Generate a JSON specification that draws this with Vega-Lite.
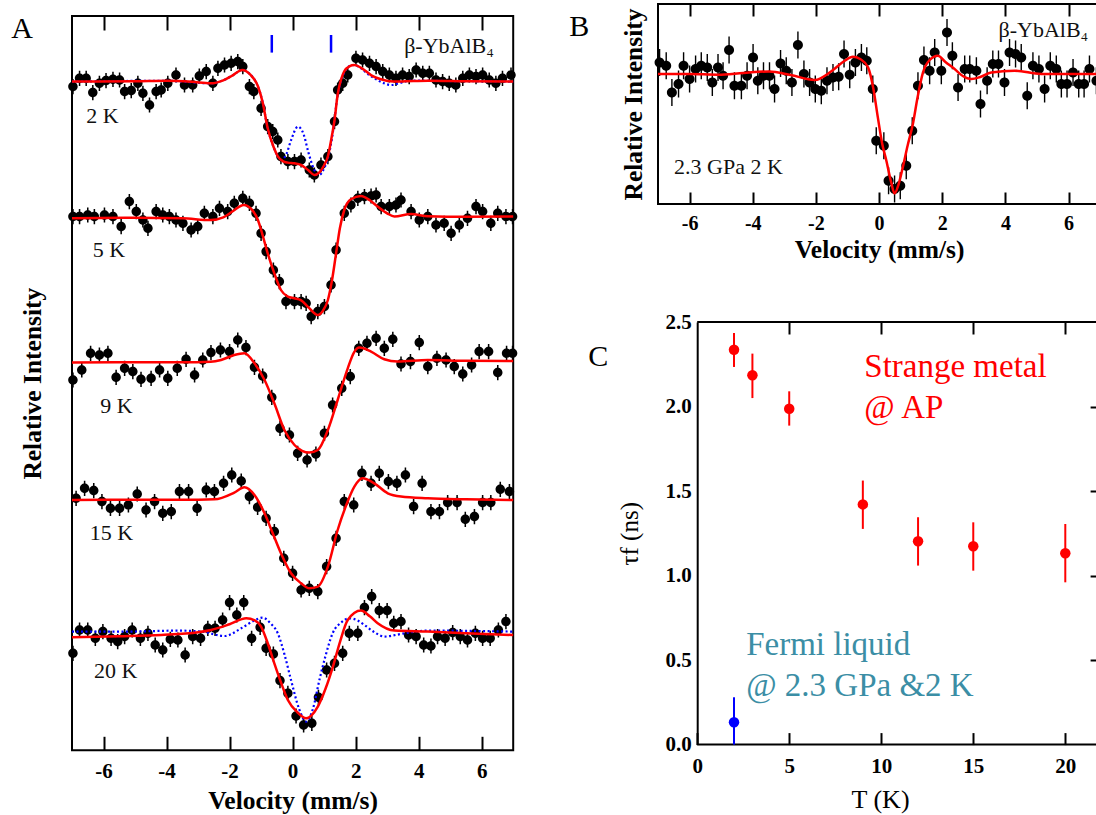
{
"$schema": "https://vega.github.io/schema/vega-lite/v6.json",
"padding": {"left": 10, "top": 2, "right": 0, "bottom": 0},
"autosize": {"type": "pad"},
"config": {
  "font": "Liberation Serif",
  "view": {"stroke": "black", "strokeWidth": 2},
  "axis": {"grid": false, "labelFlush": false, "labelOverlap": false, "labelColor": "black", "titleColor": "black", "tickColor": "black", "domainColor": "black", "tickWidth": 2, "domainWidth": 2, "labelFont": "Liberation Serif", "titleFont": "Liberation Serif"}
},
"datasets": {
  "ptsA": [
{"v":-6.97,"I":663.7},{"v":-6.76,"I":672},{"v":-6.55,"I":672},{"v":-6.34,"I":657.7},{"v":-6.13,"I":667},{"v":-5.92,"I":669.7},{"v":-5.70,"I":671},{"v":-5.49,"I":670.3},{"v":-5.33,"I":658.7},{"v":-5.12,"I":659.7},{"v":-4.91,"I":667},{"v":-4.75,"I":657},{"v":-4.54,"I":645.3},{"v":-4.33,"I":658.7},{"v":-4.17,"I":660.3},{"v":-3.96,"I":667},{"v":-3.70,"I":675.3},{"v":-3.43,"I":665.3},{"v":-3.17,"I":665.3},{"v":-2.96,"I":674.3},{"v":-2.74,"I":678.7},{"v":-2.53,"I":667},{"v":-2.37,"I":682},{"v":-2.16,"I":685.3},{"v":-1.95,"I":687},{"v":-1.74,"I":688.7},{"v":-1.58,"I":683.7},{"v":-1.37,"I":663.7},{"v":-1.23,"I":658.7},{"v":-1.00,"I":642},{"v":-0.79,"I":623.7},{"v":-0.63,"I":618.7},{"v":-0.47,"I":610.3},{"v":-0.37,"I":593.7},{"v":-0.15,"I":588.7},{"v":0.06,"I":588.7},{"v":0.27,"I":590.3},{"v":0.53,"I":580.3},{"v":0.69,"I":575.3},{"v":0.90,"I":585.3},{"v":1.12,"I":593.7},{"v":1.33,"I":628.7},{"v":1.43,"I":660.3},{"v":1.59,"I":667},{"v":1.75,"I":675.3},{"v":2.01,"I":692},{"v":2.22,"I":690.3},{"v":2.44,"I":687},{"v":2.65,"I":683.7},{"v":2.86,"I":678.7},{"v":3.07,"I":675.3},{"v":3.28,"I":672},{"v":3.49,"I":675.3},{"v":3.70,"I":673.7},{"v":3.92,"I":680.3},{"v":4.13,"I":677},{"v":4.34,"I":677},{"v":4.55,"I":670.3},{"v":4.76,"I":668.7},{"v":4.97,"I":667},{"v":5.18,"I":665.3},{"v":5.40,"I":672},{"v":5.61,"I":675.3},{"v":5.82,"I":673.7},{"v":6.03,"I":675.3},{"v":6.24,"I":670.3},{"v":6.45,"I":667},{"v":6.66,"I":672},{"v":6.93,"I":675.3},
{"v":-6.97,"I":533.7},{"v":-6.76,"I":533.7},{"v":-6.50,"I":535.3},{"v":-6.29,"I":533.7},{"v":-5.97,"I":535.3},{"v":-5.70,"I":533.7},{"v":-5.44,"I":523.7},{"v":-5.18,"I":548.7},{"v":-4.96,"I":538.7},{"v":-4.75,"I":530.3},{"v":-4.59,"I":522},{"v":-4.33,"I":538.7},{"v":-4.12,"I":535.3},{"v":-3.91,"I":533.7},{"v":-3.70,"I":530.3},{"v":-3.48,"I":527},{"v":-3.22,"I":520.3},{"v":-3.01,"I":523.7},{"v":-2.80,"I":537},{"v":-2.53,"I":533.7},{"v":-2.32,"I":542},{"v":-2.06,"I":538.7},{"v":-1.85,"I":547},{"v":-1.58,"I":552},{"v":-1.37,"I":547},{"v":-1.16,"I":537},{"v":-1.00,"I":517},{"v":-0.84,"I":498.7},{"v":-0.61,"I":480.3},{"v":-0.42,"I":468.7},{"v":-0.21,"I":448.7},{"v":0.06,"I":448.7},{"v":0.27,"I":448.7},{"v":0.43,"I":447},{"v":0.59,"I":433.7},{"v":0.80,"I":438.7},{"v":1.01,"I":443.7},{"v":1.22,"I":465.3},{"v":1.38,"I":500.3},{"v":1.64,"I":537},{"v":1.85,"I":545.3},{"v":2.07,"I":552},{"v":2.28,"I":553.7},{"v":2.49,"I":554.3},{"v":2.65,"I":555.3},{"v":2.81,"I":543.7},{"v":3.07,"I":543.7},{"v":3.28,"I":545.3},{"v":3.44,"I":550.3},{"v":3.76,"I":538.7},{"v":4.02,"I":530.3},{"v":4.29,"I":533.7},{"v":4.55,"I":525.3},{"v":4.81,"I":527},{"v":5.03,"I":517},{"v":5.29,"I":525.3},{"v":5.55,"I":532},{"v":5.82,"I":543.7},{"v":6.03,"I":538.7},{"v":6.29,"I":527},{"v":6.51,"I":537},{"v":6.77,"I":533.7},{"v":6.98,"I":533.7},
{"v":-6.97,"I":370.3},{"v":-6.69,"I":380.3},{"v":-6.41,"I":397},{"v":-6.13,"I":395.3},{"v":-5.86,"I":397},{"v":-5.60,"I":373},{"v":-5.33,"I":382},{"v":-5.07,"I":378.7},{"v":-4.81,"I":371},{"v":-4.49,"I":372},{"v":-4.22,"I":380.3},{"v":-3.96,"I":372},{"v":-3.66,"I":382},{"v":-3.38,"I":391},{"v":-3.11,"I":375.3},{"v":-2.85,"I":390.3},{"v":-2.59,"I":397.7},{"v":-2.29,"I":400.3},{"v":-2.00,"I":398.7},{"v":-1.74,"I":410.3},{"v":-1.48,"I":402.7},{"v":-1.21,"I":383},{"v":-0.95,"I":374.3},{"v":-0.66,"I":353},{"v":-0.40,"I":322},{"v":-0.10,"I":315.3},{"v":0.16,"I":297},{"v":0.46,"I":290.3},{"v":0.74,"I":296.3},{"v":1.01,"I":317},{"v":1.27,"I":345.3},{"v":1.56,"I":362},{"v":1.83,"I":373.7},{"v":2.10,"I":402},{"v":2.36,"I":407},{"v":2.65,"I":412},{"v":2.91,"I":402},{"v":3.18,"I":411},{"v":3.44,"I":386.3},{"v":3.74,"I":388.7},{"v":4.02,"I":407.7},{"v":4.29,"I":383.7},{"v":4.58,"I":392},{"v":4.87,"I":390.3},{"v":5.13,"I":383.7},{"v":5.40,"I":376.3},{"v":5.68,"I":385.3},{"v":5.92,"I":398.7},{"v":6.22,"I":398.7},{"v":6.51,"I":377.7},{"v":6.79,"I":397},{"v":6.98,"I":397},
{"v":-6.87,"I":252},{"v":-6.60,"I":262},{"v":-6.31,"I":259.7},{"v":-6.05,"I":248.7},{"v":-5.78,"I":242},{"v":-5.49,"I":242},{"v":-5.21,"I":245.3},{"v":-4.93,"I":256.3},{"v":-4.65,"I":240.3},{"v":-4.38,"I":248.7},{"v":-4.12,"I":237},{"v":-3.85,"I":238.7},{"v":-3.59,"I":258.7},{"v":-3.30,"I":258.7},{"v":-3.03,"I":242},{"v":-2.74,"I":260.3},{"v":-2.48,"I":258.7},{"v":-2.19,"I":267},{"v":-1.93,"I":275.3},{"v":-1.63,"I":269.3},{"v":-1.37,"I":253.7},{"v":-1.11,"I":243},{"v":-0.84,"I":232},{"v":-0.58,"I":218.7},{"v":-0.28,"I":192},{"v":0.00,"I":177},{"v":0.27,"I":160.3},{"v":0.53,"I":162},{"v":0.80,"I":158.7},{"v":1.08,"I":183.7},{"v":1.38,"I":212},{"v":1.64,"I":248.7},{"v":1.94,"I":245.3},{"v":2.20,"I":277},{"v":2.49,"I":267},{"v":2.75,"I":277},{"v":3.04,"I":268.7},{"v":3.31,"I":267},{"v":3.58,"I":275.3},{"v":3.84,"I":243.7},{"v":4.11,"I":267},{"v":4.39,"I":238.7},{"v":4.66,"I":238.7},{"v":4.92,"I":247.7},{"v":5.22,"I":247.7},{"v":5.48,"I":231},{"v":5.77,"I":233.7},{"v":6.03,"I":247.7},{"v":6.29,"I":247.7},{"v":6.59,"I":261},{"v":6.88,"I":258.7},
{"v":-6.97,"I":97},{"v":-6.76,"I":120.3},{"v":-6.50,"I":120.3},{"v":-6.26,"I":112},{"v":-6.02,"I":118.7},{"v":-5.76,"I":112},{"v":-5.55,"I":108.7},{"v":-5.33,"I":113.7},{"v":-5.09,"I":120.3},{"v":-4.83,"I":112},{"v":-4.59,"I":117},{"v":-4.36,"I":105.3},{"v":-4.12,"I":100.3},{"v":-3.88,"I":111},{"v":-3.64,"I":110.3},{"v":-3.41,"I":95.3},{"v":-3.17,"I":113.7},{"v":-2.92,"I":112},{"v":-2.69,"I":122},{"v":-2.46,"I":122},{"v":-2.22,"I":130.3},{"v":-2.00,"I":147.7},{"v":-1.77,"I":135.3},{"v":-1.55,"I":147.7},{"v":-1.30,"I":112},{"v":-1.03,"I":123},{"v":-0.84,"I":102},{"v":-0.61,"I":96.3},{"v":-0.40,"I":69.7},{"v":-0.15,"I":57},{"v":0.11,"I":34.3},{"v":0.35,"I":25.3},{"v":0.61,"I":27},{"v":0.82,"I":53},{"v":1.08,"I":80.3},{"v":1.33,"I":87},{"v":1.59,"I":97},{"v":1.80,"I":117},{"v":2.07,"I":117},{"v":2.28,"I":142.7},{"v":2.51,"I":153.7},{"v":2.75,"I":139.7},{"v":3.00,"I":139.7},{"v":3.21,"I":127},{"v":3.44,"I":128.7},{"v":3.68,"I":115.3},{"v":3.92,"I":113.7},{"v":4.16,"I":105.3},{"v":4.39,"I":104.3},{"v":4.60,"I":113.7},{"v":4.84,"I":112},{"v":5.08,"I":117.7},{"v":5.32,"I":113.7},{"v":5.55,"I":110.3},{"v":5.80,"I":117},{"v":6.03,"I":112},{"v":6.27,"I":112},{"v":6.53,"I":120.3},{"v":6.77,"I":128.7}
  ],
  "fitA": [
{"s":"2K","v":-7,"I":668.7},{"s":"2K","v":-5,"I":669},{"s":"2K","v":-4,"I":669.5},{"s":"2K","v":-3.2,"I":668.5},{"s":"2K","v":-2.6,"I":667},{"s":"2K","v":-2.2,"I":670},{"s":"2K","v":-1.9,"I":675},{"s":"2K","v":-1.6,"I":680.3},{"s":"2K","v":-1.35,"I":676},{"s":"2K","v":-1.1,"I":664},{"s":"2K","v":-0.95,"I":648},{"s":"2K","v":-0.79,"I":622},{"s":"2K","v":-0.6,"I":603},{"s":"2K","v":-0.47,"I":594},{"s":"2K","v":-0.3,"I":589},{"s":"2K","v":-0.15,"I":587.7},{"s":"2K","v":0.05,"I":587},{"s":"2K","v":0.27,"I":585.3},{"s":"2K","v":0.5,"I":580},{"s":"2K","v":0.69,"I":575.3},{"s":"2K","v":0.85,"I":578},{"s":"2K","v":1.0,"I":585},{"s":"2K","v":1.12,"I":594},{"s":"2K","v":1.25,"I":615},{"s":"2K","v":1.33,"I":630},{"s":"2K","v":1.43,"I":656},{"s":"2K","v":1.55,"I":672},{"s":"2K","v":1.64,"I":679},{"s":"2K","v":1.8,"I":684},{"s":"2K","v":1.96,"I":685.3},{"s":"2K","v":2.2,"I":682},{"s":"2K","v":2.5,"I":675},{"s":"2K","v":2.8,"I":671},{"s":"2K","v":3.2,"I":668.7},{"s":"2K","v":3.6,"I":669},{"s":"2K","v":4.3,"I":669.5},{"s":"2K","v":5.5,"I":669},{"s":"2K","v":7,"I":668.7},
{"s":"5K","v":-7,"I":532},{"s":"5K","v":-5,"I":532.5},{"s":"5K","v":-3.5,"I":532},{"s":"5K","v":-2.6,"I":530.3},{"s":"5K","v":-2.2,"I":533},{"s":"5K","v":-1.9,"I":539},{"s":"5K","v":-1.55,"I":545.3},{"s":"5K","v":-1.3,"I":541},{"s":"5K","v":-1.1,"I":530.3},{"s":"5K","v":-0.95,"I":515},{"s":"5K","v":-0.79,"I":497},{"s":"5K","v":-0.58,"I":477},{"s":"5K","v":-0.37,"I":460.3},{"s":"5K","v":-0.15,"I":453.7},{"s":"5K","v":0.05,"I":452},{"s":"5K","v":0.27,"I":450},{"s":"5K","v":0.5,"I":443},{"s":"5K","v":0.8,"I":435.3},{"s":"5K","v":0.97,"I":440},{"s":"5K","v":1.12,"I":450.3},{"s":"5K","v":1.25,"I":470},{"s":"5K","v":1.38,"I":497},{"s":"5K","v":1.5,"I":522},{"s":"5K","v":1.64,"I":540.3},{"s":"5K","v":1.85,"I":551},{"s":"5K","v":2.17,"I":554.3},{"s":"5K","v":2.45,"I":550},{"s":"5K","v":2.7,"I":543.7},{"s":"5K","v":3.0,"I":537},{"s":"5K","v":3.23,"I":533.7},{"s":"5K","v":3.76,"I":536.3},{"s":"5K","v":4.3,"I":534},{"s":"5K","v":5.5,"I":533.5},{"s":"5K","v":7,"I":533.7},
{"s":"9K","v":-7,"I":387.7},{"s":"9K","v":-5,"I":388},{"s":"9K","v":-3.5,"I":388},{"s":"9K","v":-2.6,"I":388.5},{"s":"9K","v":-2.27,"I":390.3},{"s":"9K","v":-1.85,"I":395.3},{"s":"9K","v":-1.53,"I":397},{"s":"9K","v":-1.21,"I":387},{"s":"9K","v":-0.89,"I":370.3},{"s":"9K","v":-0.58,"I":347},{"s":"9K","v":-0.26,"I":320.3},{"s":"9K","v":0.06,"I":305.3},{"s":"9K","v":0.3,"I":299.5},{"s":"9K","v":0.53,"I":297.7},{"s":"9K","v":0.8,"I":300.3},{"s":"9K","v":1.12,"I":320.3},{"s":"9K","v":1.43,"I":350.3},{"s":"9K","v":1.75,"I":382},{"s":"9K","v":1.95,"I":398},{"s":"9K","v":2.12,"I":402.7},{"s":"9K","v":2.49,"I":398.7},{"s":"9K","v":2.91,"I":391},{"s":"9K","v":3.33,"I":388.7},{"s":"9K","v":4.29,"I":390.3},{"s":"9K","v":5.5,"I":389.5},{"s":"9K","v":7,"I":389.3},
{"s":"15K","v":-7,"I":250.3},{"s":"15K","v":-5,"I":250.5},{"s":"15K","v":-3.5,"I":250.5},{"s":"15K","v":-2.48,"I":251},{"s":"15K","v":-1.85,"I":257.7},{"s":"15K","v":-1.53,"I":263},{"s":"15K","v":-1.21,"I":255.3},{"s":"15K","v":-0.89,"I":237},{"s":"15K","v":-0.63,"I":217},{"s":"15K","v":-0.37,"I":197},{"s":"15K","v":-0.05,"I":177},{"s":"15K","v":0.27,"I":167},{"s":"15K","v":0.53,"I":162},{"s":"15K","v":0.8,"I":163.7},{"s":"15K","v":1.12,"I":183.7},{"s":"15K","v":1.43,"I":220.3},{"s":"15K","v":1.7,"I":245},{"s":"15K","v":1.96,"I":263.7},{"s":"15K","v":2.22,"I":272},{"s":"15K","v":2.59,"I":267},{"s":"15K","v":3.02,"I":257},{"s":"15K","v":3.44,"I":253.7},{"s":"15K","v":4.29,"I":252},{"s":"15K","v":5.5,"I":251},{"s":"15K","v":7,"I":250.3},
{"s":"20K","v":-7,"I":113},{"s":"20K","v":-5.5,"I":114},{"s":"20K","v":-4.17,"I":115.3},{"s":"20K","v":-3.0,"I":118},{"s":"20K","v":-2.59,"I":120.3},{"s":"20K","v":-2.0,"I":126},{"s":"20K","v":-1.47,"I":132},{"s":"20K","v":-1.2,"I":130},{"s":"20K","v":-1.0,"I":123.7},{"s":"20K","v":-0.8,"I":108},{"s":"20K","v":-0.58,"I":87},{"s":"20K","v":-0.37,"I":68},{"s":"20K","v":-0.15,"I":50.3},{"s":"20K","v":0.15,"I":38},{"s":"20K","v":0.43,"I":32},{"s":"20K","v":0.6,"I":35},{"s":"20K","v":0.8,"I":43.7},{"s":"20K","v":1.05,"I":62},{"s":"20K","v":1.28,"I":83.7},{"s":"20K","v":1.5,"I":108},{"s":"20K","v":1.75,"I":130.3},{"s":"20K","v":2.17,"I":139.7},{"s":"20K","v":2.45,"I":134},{"s":"20K","v":2.7,"I":127},{"s":"20K","v":3.23,"I":119.7},{"s":"20K","v":4.29,"I":118.7},{"s":"20K","v":5.5,"I":117},{"s":"20K","v":7,"I":115.3}
  ],
  "blueA": [
{"s":"2K","v":-7,"I":668.7},{"s":"2K","v":-4,"I":669.5},{"s":"2K","v":-2.6,"I":667},{"s":"2K","v":-2.2,"I":670},{"s":"2K","v":-1.9,"I":675},{"s":"2K","v":-1.6,"I":680.3},{"s":"2K","v":-1.35,"I":676},{"s":"2K","v":-1.1,"I":664},{"s":"2K","v":-0.95,"I":648},{"s":"2K","v":-0.79,"I":622},{"s":"2K","v":-0.6,"I":603},{"s":"2K","v":-0.47,"I":594},{"s":"2K","v":-0.37,"I":590.3},{"s":"2K","v":-0.2,"I":596},{"s":"2K","v":-0.05,"I":610},{"s":"2K","v":0.17,"I":623.7},{"s":"2K","v":0.35,"I":616},{"s":"2K","v":0.5,"I":598},{"s":"2K","v":0.69,"I":580.3},{"s":"2K","v":0.85,"I":575.3},{"s":"2K","v":1.0,"I":582},{"s":"2K","v":1.12,"I":592},{"s":"2K","v":1.25,"I":612},{"s":"2K","v":1.43,"I":655},{"s":"2K","v":1.64,"I":678},{"s":"2K","v":1.8,"I":684},{"s":"2K","v":1.96,"I":685.3},{"s":"2K","v":2.17,"I":682},{"s":"2K","v":2.4,"I":676},{"s":"2K","v":2.6,"I":672},{"s":"2K","v":2.9,"I":667},{"s":"2K","v":3.12,"I":665.3},{"s":"2K","v":3.44,"I":667.7},{"s":"2K","v":3.76,"I":669.7},{"s":"2K","v":4.3,"I":669.5},{"s":"2K","v":7,"I":668.7},
{"s":"20K","v":-7,"I":118.7},{"s":"20K","v":-5.23,"I":118.7},{"s":"20K","v":-3.64,"I":119.7},{"s":"20K","v":-2.9,"I":118.7},{"s":"20K","v":-2.16,"I":114.3},{"s":"20K","v":-1.63,"I":122},{"s":"20K","v":-1.2,"I":130},{"s":"20K","v":-0.95,"I":132.7},{"s":"20K","v":-0.7,"I":127},{"s":"20K","v":-0.47,"I":117},{"s":"20K","v":-0.25,"I":95},{"s":"20K","v":-0.05,"I":70.3},{"s":"20K","v":0.2,"I":42},{"s":"20K","v":0.43,"I":28.7},{"s":"20K","v":0.65,"I":42},{"s":"20K","v":0.85,"I":70.3},{"s":"20K","v":1.05,"I":95},{"s":"20K","v":1.27,"I":117},{"s":"20K","v":1.55,"I":128},{"s":"20K","v":1.8,"I":132},{"s":"20K","v":2.05,"I":130},{"s":"20K","v":2.28,"I":125.3},{"s":"20K","v":2.6,"I":118},{"s":"20K","v":2.91,"I":113.7},{"s":"20K","v":3.3,"I":115.5},{"s":"20K","v":3.55,"I":117},{"s":"20K","v":4.29,"I":119.7},{"s":"20K","v":7,"I":118.7}
  ],
  "labA": [
{"v":-6.55,"I":627.7,"t":"2 K"},{"v":-6.34,"I":493.7,"t":"5 K"},{"v":-6.10,"I":337.7,"t":"9 K"},{"v":-6.44,"I":210.3,"t":"15 K"},{"v":-6.30,"I":72,"t":"20 K"},{"v":3.54,"I":697.7,"t":"β-YbAlB₄"}
  ],
  "ptsB": [
{"v":-6.95,"I":141.6},{"v":-6.74,"I":138.3},{"v":-6.56,"I":111.6},{"v":-6.35,"I":120},{"v":-6.19,"I":138.3},{"v":-6.00,"I":125},{"v":-5.81,"I":135},{"v":-5.63,"I":138.3},{"v":-5.44,"I":136.6},{"v":-5.28,"I":121.6},{"v":-5.10,"I":136.6},{"v":-4.94,"I":128.3},{"v":-4.75,"I":154},{"v":-4.58,"I":118.3},{"v":-4.36,"I":118.3},{"v":-4.18,"I":128.3},{"v":-3.99,"I":146.6},{"v":-3.84,"I":123.3},{"v":-3.66,"I":128.3},{"v":-3.47,"I":128.3},{"v":-3.31,"I":115},{"v":-3.12,"I":140.6},{"v":-2.94,"I":133.3},{"v":-2.76,"I":121.6},{"v":-2.57,"I":159},{"v":-2.38,"I":130},{"v":-2.20,"I":121.6},{"v":-2.02,"I":115},{"v":-1.83,"I":113.3},{"v":-1.65,"I":123.3},{"v":-1.46,"I":126.6},{"v":-1.28,"I":127.3},{"v":-1.11,"I":150},{"v":-0.93,"I":129.3},{"v":-0.75,"I":141.6},{"v":-0.56,"I":146.6},{"v":-0.39,"I":143.3},{"v":-0.20,"I":115},{"v":-0.09,"I":63.3},{"v":0.15,"I":58.3},{"v":0.30,"I":23.3},{"v":0.49,"I":15},{"v":0.67,"I":18.3},{"v":0.86,"I":38.3},{"v":1.05,"I":73.3},{"v":1.23,"I":118.3},{"v":1.42,"I":144},{"v":1.60,"I":133.3},{"v":1.76,"I":151.6},{"v":1.97,"I":133.3},{"v":2.15,"I":171.6},{"v":2.32,"I":148.3},{"v":2.50,"I":116.6},{"v":2.71,"I":135},{"v":2.87,"I":135},{"v":3.08,"I":133.3},{"v":3.21,"I":100},{"v":3.42,"I":123.3},{"v":3.60,"I":140},{"v":3.78,"I":140},{"v":3.97,"I":121.6},{"v":4.13,"I":151.6},{"v":4.32,"I":150},{"v":4.50,"I":146.6},{"v":4.69,"I":108.3},{"v":4.87,"I":138.3},{"v":5.06,"I":135},{"v":5.24,"I":115},{"v":5.42,"I":138.3},{"v":5.61,"I":135},{"v":5.77,"I":120},{"v":5.95,"I":120},{"v":6.14,"I":131.6},{"v":6.32,"I":120},{"v":6.49,"I":120},{"v":6.66,"I":135},{"v":6.88,"I":123.3}
  ],
  "fitB": [
{"v":-7,"I":130},{"v":-6,"I":130},{"v":-5.1,"I":129.3},{"v":-4.3,"I":131},{"v":-3.48,"I":132.6},{"v":-2.8,"I":129},{"v":-2.04,"I":124},{"v":-1.5,"I":133},{"v":-1.1,"I":143},{"v":-0.83,"I":147.3},{"v":-0.6,"I":145},{"v":-0.35,"I":136.6},{"v":-0.18,"I":115},{"v":-0.04,"I":86.6},{"v":0.1,"I":60},{"v":0.23,"I":43.3},{"v":0.38,"I":22},{"v":0.49,"I":10.6},{"v":0.62,"I":20},{"v":0.75,"I":36.6},{"v":0.9,"I":58},{"v":1.07,"I":80},{"v":1.22,"I":107},{"v":1.39,"I":131.6},{"v":1.6,"I":144},{"v":1.86,"I":148.3},{"v":2.1,"I":142},{"v":2.39,"I":135},{"v":2.65,"I":128},{"v":2.92,"I":125},{"v":3.2,"I":127},{"v":3.55,"I":131.6},{"v":4.29,"I":133.3},{"v":5.13,"I":130},{"v":6,"I":130},{"v":7,"I":130}
  ],
  "tauC": [
{"T":2,"tau":2.336,"lo":2.234,"hi":2.435,"g":"AP"},{"T":3,"tau":2.185,"lo":2.05,"hi":2.313,"g":"AP"},{"T":5,"tau":1.987,"lo":1.887,"hi":2.09,"g":"AP"},{"T":9,"tau":1.421,"lo":1.276,"hi":1.562,"g":"AP"},{"T":12,"tau":1.203,"lo":1.059,"hi":1.345,"g":"AP"},{"T":15,"tau":1.173,"lo":1.029,"hi":1.315,"g":"AP"},{"T":20,"tau":1.132,"lo":0.96,"hi":1.305,"g":"AP"},{"T":2,"tau":0.132,"lo":0,"hi":0.28,"g":"2.3 GPa"}
  ]
},
"spacing": 48,
"hconcat": [
  {
    "spacing": 0,
    "vconcat": [
      {"width": 1, "height": 8, "view": {"stroke": null}, "data": {"values": [{}]}, "mark": {"type": "text", "text": ""}, "encoding": {}},
      {
        "width": 441.2, "height": 734.3,
        "resolve": {"axis": {"x": "independent", "y": "independent"}},
        "layer": [
          {"data": {"name": "ptsA"},
           "mark": {"type": "point", "shape": "M-1,0A1,1 0 1,1 1,0A1,1 0 1,1 -1,0Z M-0.16,-1.6L0.16,-1.6L0.16,-0.8L-0.16,-0.8Z M-0.16,0.8L0.16,0.8L0.16,1.6L-0.16,1.6Z", "size": 90, "filled": true, "color": "black", "opacity": 1},
           "encoding": {
             "x": {"field": "v", "type": "quantitative", "scale": {"domain": [-7, 7], "nice": false, "zero": false},
                   "axis": {"orient": "bottom", "values": [-6,-4,-2,0,2,4,6], "labelExpr": "replace(datum.label, '−', '-')", "tickSize": -14, "labelPadding": 24, "labelFontSize": 21, "labelFontWeight": "bold", "domain": false, "title": "Velocity (mm/s)", "titleFontSize": 25.5, "titleFontWeight": "bold", "titlePadding": 7}},
             "y": {"field": "I", "type": "quantitative", "scale": {"domain": [0, 734.3], "nice": false, "zero": false},
                   "axis": {"orient": "left", "labels": false, "ticks": false, "domain": false, "title": "Relative Intensity", "titleFontSize": 25.5, "titleFontWeight": "bold", "titlePadding": 27}}
           }},
          {"data": {"name": "blueA"},
           "mark": {"type": "line", "color": "#0000ff", "strokeWidth": 2.2, "strokeDash": [2, 2.5], "interpolate": "monotone"},
           "encoding": {"x": {"field": "v", "type": "quantitative", "axis": null}, "y": {"field": "I", "type": "quantitative", "axis": null}, "detail": {"field": "s"}}},
          {"data": {"name": "fitA"},
           "mark": {"type": "line", "color": "#ff0000", "strokeWidth": 2.5, "interpolate": "monotone"},
           "encoding": {
             "x": {"field": "v", "type": "quantitative", "axis": {"orient": "top", "values": [-6,-4,-2,0,2,4,6], "tickSize": -14, "labels": false, "domain": false, "title": null}},
             "y": {"field": "I", "type": "quantitative", "axis": null},
             "detail": {"field": "s"}}},
          {"data": {"values": [{"v": -0.66, "I1": 697.7, "I2": 715.3}, {"v": 1.22, "I1": 697.7, "I2": 715.3}]},
           "mark": {"type": "rule", "color": "#0000ff", "strokeWidth": 2.5},
           "encoding": {"x": {"field": "v", "type": "quantitative", "axis": null}, "y": {"field": "I1", "type": "quantitative", "axis": null}, "y2": {"field": "I2"}}},
          {"data": {"name": "labA"},
           "mark": {"type": "text", "align": "left", "baseline": "alphabetic", "fontSize": 22, "color": "#111111"},
           "encoding": {"x": {"field": "v", "type": "quantitative", "axis": null}, "y": {"field": "I", "type": "quantitative", "axis": null}, "text": {"field": "t"}}},
          {"data": {"values": [{"v": -8.93, "I": 712, "t": "A"}]},
           "mark": {"type": "text", "align": "left", "baseline": "alphabetic", "fontSize": 30, "color": "black"},
           "encoding": {"x": {"field": "v", "type": "quantitative", "axis": null}, "y": {"field": "I", "type": "quantitative", "axis": null}, "text": {"field": "t"}}}
        ]
      }
    ]
  },
  {
    "spacing": 47,
    "vconcat": [
      {
        "width": 442.2, "height": 200,
        "resolve": {"axis": {"x": "independent", "y": "independent"}},
        "layer": [
          {"data": {"name": "ptsB"},
           "mark": {"type": "point", "shape": "M-1,0A1,1 0 1,1 1,0A1,1 0 1,1 -1,0Z M-0.14,-2.7L0.14,-2.7L0.14,-0.8L-0.14,-0.8Z M-0.14,0.8L0.14,0.8L0.14,2.7L-0.14,2.7Z", "size": 100, "filled": true, "color": "black", "opacity": 1},
           "encoding": {
             "x": {"field": "v", "type": "quantitative", "scale": {"domain": [-7, 7], "nice": false, "zero": false},
                   "axis": {"orient": "bottom", "values": [-6,-4,-2,0,2,4,6], "labelExpr": "replace(datum.label, '−', '-')", "tickSize": -12, "labelPadding": 21.5, "labelFontSize": 20, "labelFontWeight": "bold", "domain": false, "title": "Velocity (mm/s)", "titleFontSize": 25.5, "titleFontWeight": "bold", "titlePadding": 3.5}},
             "y": {"field": "I", "type": "quantitative", "scale": {"domain": [0, 200], "nice": false, "zero": false},
                   "axis": {"orient": "left", "labels": false, "ticks": false, "domain": false, "title": "Relative Intensity", "titleFontSize": 25.5, "titleFontWeight": "bold", "titlePadding": 12}}
           }},
          {"data": {"name": "fitB"},
           "mark": {"type": "line", "color": "#ff0000", "strokeWidth": 2.5, "interpolate": "monotone"},
           "encoding": {
             "x": {"field": "v", "type": "quantitative", "axis": {"orient": "top", "values": [-6,-4,-2,0,2,4,6], "tickSize": -12, "labels": false, "domain": false, "title": null}},
             "y": {"field": "I", "type": "quantitative", "axis": null}}},
          {"data": {"values": [{"v": 3.78, "I": 167.3, "t": "β-YbAlB₄"}, {"v": -6.49, "I": 30, "t": "2.3 GPa 2 K"}]},
           "mark": {"type": "text", "align": "left", "baseline": "alphabetic", "fontSize": 22, "color": "#111111"},
           "encoding": {"x": {"field": "v", "type": "quantitative", "axis": null}, "y": {"field": "I", "type": "quantitative", "axis": null}, "text": {"field": "t"}}},
          {"data": {"values": [{"v": -9.81, "I": 168.3, "t": "B"}]},
           "mark": {"type": "text", "align": "left", "baseline": "alphabetic", "fontSize": 30, "color": "black"},
           "encoding": {"x": {"field": "v", "type": "quantitative", "axis": null}, "y": {"field": "I", "type": "quantitative", "axis": null}, "text": {"field": "t"}}}
        ]
      },
      {
        "width": 444.1, "height": 422.6,
        "view": {"stroke": null},
        "resolve": {"axis": {"x": "independent", "y": "independent"}},
        "layer": [
          {"data": {"values": [{}]},
           "mark": {"type": "rule", "color": "black", "strokeWidth": 2},
           "encoding": {"x": {"datum": 0, "type": "quantitative", "scale": {"domain": [-2.13, 22], "nice": false, "zero": false}, "axis": null}, "x2": {"datum": 22}, "y": {"datum": 0, "type": "quantitative", "scale": {"domain": [0, 2.5], "nice": false, "zero": false}, "axis": null}}},
          {"data": {"values": [{}]},
           "mark": {"type": "rule", "color": "black", "strokeWidth": 2},
           "encoding": {"x": {"datum": 0, "type": "quantitative", "axis": null}, "x2": {"datum": 22}, "y": {"datum": 2.5, "type": "quantitative", "axis": null}}},
          {"data": {"name": "tauC"},
           "mark": {"type": "rule", "strokeWidth": 2},
           "encoding": {
             "x": {"field": "T", "type": "quantitative",
                   "axis": {"orient": "bottom", "values": [0,5,10,15,20], "tickSize": -12, "labelPadding": 23, "labelFontSize": 21, "labelFontWeight": "bold", "domain": false, "title": "T (K)", "titleFontSize": 26, "titleFontWeight": "normal", "titlePadding": 10}},
             "y": {"field": "lo", "type": "quantitative",
                   "axis": {"orient": "left", "offset": -39.2, "values": [0,0.5,1,1.5,2,2.5], "format": ".1f", "ticks": false, "domain": true, "labelPadding": 6, "labelFontSize": 21, "labelFontWeight": "bold", "title": "τf (ns)", "titleFontSize": 25, "titleFontWeight": "normal", "titlePadding": 22}},
             "y2": {"field": "hi"},
             "color": {"field": "g", "type": "nominal", "scale": {"domain": ["AP", "2.3 GPa"], "range": ["#ff0000", "#0000ff"]}, "legend": null}}},
          {"data": {"name": "tauC"},
           "mark": {"type": "circle", "size": 110, "opacity": 1},
           "encoding": {
             "x": {"field": "T", "type": "quantitative", "axis": {"orient": "top", "values": [5,10,15,20], "tickSize": -12, "labels": false, "domain": false, "title": null}},
             "y": {"field": "tau", "type": "quantitative", "axis": {"orient": "right", "values": [0.5,1,1.5,2], "tickSize": -12, "labels": false, "domain": true, "title": null}},
             "color": {"field": "g", "type": "nominal", "legend": null}}},
          {"data": {"values": [{"x": 9.08, "y": 2.173, "t": "Strange metal"}, {"x": 9.08, "y": 1.933, "t": "@ AP"}]},
           "mark": {"type": "text", "align": "left", "baseline": "alphabetic", "fontSize": 33, "color": "#ff0000"},
           "encoding": {"x": {"field": "x", "type": "quantitative", "axis": null}, "y": {"field": "y", "type": "quantitative", "axis": null}, "text": {"field": "t"}}},
          {"data": {"values": [{"x": 2.66, "y": 0.533, "t": "Fermi liquid"}, {"x": 2.66, "y": 0.286, "t": "@ 2.3 GPa &2 K"}]},
           "mark": {"type": "text", "align": "left", "baseline": "alphabetic", "fontSize": 33, "color": "#3b8ea5"},
           "encoding": {"x": {"field": "x", "type": "quantitative", "axis": null}, "y": {"field": "y", "type": "quantitative", "axis": null}, "text": {"field": "t"}}},
          {"data": {"values": [{"x": -5.92, "y": 2.238, "t": "C"}]},
           "mark": {"type": "text", "align": "left", "baseline": "alphabetic", "fontSize": 30, "color": "black"},
           "encoding": {"x": {"field": "x", "type": "quantitative", "axis": null}, "y": {"field": "y", "type": "quantitative", "axis": null}, "text": {"field": "t"}}}
        ]
      }
    ]
  }
]
}
